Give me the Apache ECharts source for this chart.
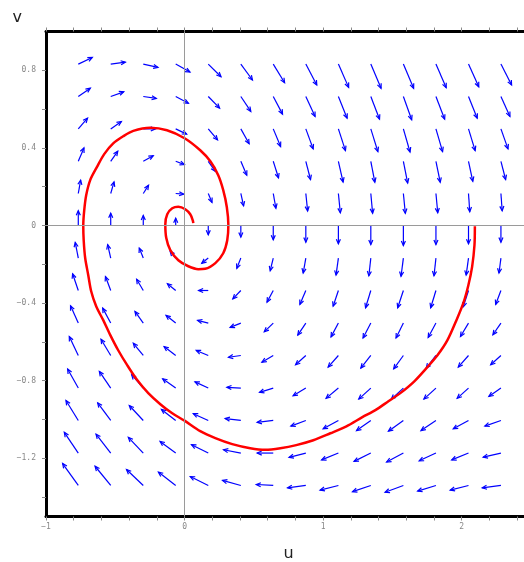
<!DOCTYPE html>
<html>
<head>
<meta charset="utf-8">
<script src="https://cdn.jsdelivr.net/npm/echarts/dist/echarts.min.js"></script>
<style>
html,body{margin:0;padding:0;background:#fff;}
#chart{width:524px;height:562px;}
</style>
</head>
<body>
<div id="chart"></div>
<script>
// ---- axis ticks / labels ----
var xTicks = [-1,-0.8,-0.6,-0.4,-0.2,0,0.2,0.4,0.6,0.8,1,1.2,1.4,1.6,1.8,2,2.2,2.4];
var xLabels = [-1,0,1,2];
var yTicks = [-1.4,-1.2,-1,-0.8,-0.6,-0.4,-0.2,0,0.2,0.4,0.6,0.8];
var yLabels = [-1.2,-0.8,-0.4,0,0.4,0.8];

// ---- vector field grid (arrow tails) ----
var colU = [-0.767,-0.533,-0.298,-0.064,0.171,0.406,0.640,0.875,1.110,1.344,1.579,1.814,2.049,2.283];
var rowV = [0.832,0.665,0.498,0.331,0.165,0,-0.168,-0.335,-0.503,-0.670,-0.838,-1.005,-1.173,-1.340];

// arrow components (u direction), one row per rowV entry
var fieldDU = [
[0.101,0.106,0.106,0.103,0.092,0.084,0.082,0.079,0.074,0.074,0.074,0.074,0.074,0.077],
[0.087,0.094,0.094,0.092,0.082,0.072,0.067,0.067,0.063,0.063,0.060,0.063,0.063,0.065],
[0.067,0.077,0.087,0.079,0.067,0.060,0.053,0.053,0.051,0.051,0.048,0.048,0.048,0.051],
[0.041,0.051,0.072,0.063,0.051,0.043,0.038,0.034,0.034,0.029,0.031,0.031,0.031,0.034],
[0.017,0.024,0.038,0.058,0.027,0.020,0.019,0.013,0.014,0.013,0.014,0.013,0.009,0.009],
[0,0,0,0,0,0,0,0,0,0,0,0,0,0],
[-0.022,-0.022,-0.029,-0.040,-0.047,-0.029,-0.022,-0.019,-0.017,-0.014,-0.017,-0.014,-0.017,-0.014],
[-0.041,-0.038,-0.048,-0.060,-0.070,-0.058,-0.045,-0.043,-0.038,-0.038,-0.041,-0.038,-0.038,-0.038],
[-0.056,-0.058,-0.060,-0.070,-0.077,-0.077,-0.065,-0.058,-0.053,-0.056,-0.053,-0.056,-0.058,-0.058],
[-0.065,-0.070,-0.072,-0.084,-0.087,-0.089,-0.082,-0.074,-0.074,-0.072,-0.070,-0.070,-0.074,-0.074],
[-0.077,-0.082,-0.084,-0.094,-0.096,-0.101,-0.099,-0.092,-0.089,-0.087,-0.087,-0.087,-0.082,-0.087],
[-0.089,-0.094,-0.101,-0.103,-0.108,-0.113,-0.116,-0.108,-0.110,-0.103,-0.108,-0.108,-0.110,-0.116],
[-0.101,-0.106,-0.108,-0.113,-0.121,-0.125,-0.116,-0.121,-0.121,-0.121,-0.121,-0.121,-0.121,-0.128],
[-0.113,-0.113,-0.121,-0.125,-0.130,-0.132,-0.123,-0.132,-0.132,-0.132,-0.132,-0.132,-0.132,-0.135]
];
// arrow components (v direction)
var fieldDV = [
[0.034,0.010,-0.017,-0.041,-0.065,-0.082,-0.096,-0.108,-0.120,-0.125,-0.125,-0.122,-0.117,-0.108],
[0.043,0.024,-0.010,-0.035,-0.060,-0.077,-0.091,-0.103,-0.112,-0.117,-0.120,-0.117,-0.112,-0.103],
[0.055,0.038,0,-0.027,-0.057,-0.077,-0.091,-0.103,-0.112,-0.117,-0.119,-0.117,-0.112,-0.103],
[0.069,0.052,0.029,-0.017,-0.052,-0.072,-0.086,-0.094,-0.107,-0.108,-0.112,-0.108,-0.103,-0.094],
[0.069,0.060,0.043,-0.003,-0.046,-0.064,-0.076,-0.090,-0.099,-0.102,-0.102,-0.099,-0.094,-0.089],
[0.076,0.063,0.052,0.038,-0.048,-0.060,-0.074,-0.086,-0.094,-0.098,-0.103,-0.098,-0.094,-0.086],
[0.081,0.069,0.052,0.035,-0.027,-0.053,-0.065,-0.077,-0.088,-0.091,-0.094,-0.091,-0.088,-0.077],
[0.086,0.072,0.058,0.035,0,-0.043,-0.060,-0.072,-0.081,-0.089,-0.089,-0.089,-0.084,-0.072],
[0.089,0.077,0.060,0.040,0.014,-0.022,-0.045,-0.062,-0.071,-0.077,-0.077,-0.074,-0.069,-0.060],
[0.098,0.084,0.063,0.046,0.026,-0.009,-0.035,-0.048,-0.060,-0.065,-0.069,-0.065,-0.060,-0.048],
[0.098,0.086,0.069,0.048,0.032,0.004,-0.022,-0.040,-0.053,-0.057,-0.057,-0.057,-0.053,-0.043],
[0.103,0.091,0.077,0.057,0.035,0.010,-0.010,-0.029,-0.043,-0.052,-0.055,-0.052,-0.043,-0.029],
[0.107,0.098,0.081,0.060,0.043,0.017,0,-0.022,-0.035,-0.043,-0.046,-0.040,-0.035,-0.021],
[0.113,0.099,0.082,0.069,0.046,0.026,0.005,-0.012,-0.024,-0.032,-0.035,-0.029,-0.024,-0.012]
];

// ---- trajectory (red curve) ----
var curveU = [2.095,2.092,2.075,2.048,2.014,1.962,1.897,1.825,1.752,1.658,1.557,1.471,1.377,1.283,1.168,1.052,0.929,0.806,0.691,0.583,
0.474,0.344,0.222,0.113,0,-0.089,-0.175,-0.262,-0.342,-0.414,-0.479,-0.536,-0.587,-0.638,-0.674,-0.695,-0.717,-0.728,-0.731,-0.724,
-0.710,-0.681,-0.632,-0.580,-0.515,-0.443,-0.370,-0.248,-0.127,0,0.113,0.186,0.243,0.279,0.305,0.316,0.308,0.279,0.222,0.149,
0.099,0.027,-0.045,-0.103,-0.132,-0.139,-0.125,-0.089,-0.045,0.005,0.041,0.059,0.063];
var curveV = [-0.004,-0.102,-0.213,-0.308,-0.395,-0.488,-0.591,-0.669,-0.730,-0.803,-0.864,-0.906,-0.952,-0.988,-1.035,-1.071,-1.107,-1.132,-1.148,-1.156,
-1.148,-1.127,-1.096,-1.060,-1.006,-0.968,-0.921,-0.864,-0.797,-0.720,-0.643,-0.565,-0.488,-0.416,-0.339,-0.256,-0.169,-0.076,0.002,0.079,
0.156,0.234,0.302,0.368,0.423,0.460,0.488,0.504,0.491,0.450,0.388,0.331,0.259,0.182,0.094,0.002,-0.076,-0.143,-0.194,-0.223,
-0.225,-0.210,-0.179,-0.127,-0.065,0.007,0.058,0.089,0.097,0.084,0.058,0.027,0.012];

// ---- build series data ----
var arrowData = [];
for (var r = 0; r < rowV.length; r++) {
  for (var c = 0; c < colU.length; c++) {
    arrowData.push([colU[c], rowV[r], fieldDU[r][c], fieldDV[r][c]]);
  }
}
var curveData = curveU.map(function (u, i) { return [u, curveV[i]]; });

function fmt(v) {
  var s = String(Math.round(v * 10) / 10);
  return s.replace('-', '\u2212');
}

var tickStyle = { color: '#8a8a8a', width: 1 };
var labelStyle = { fontFamily: 'DejaVu Sans Mono', fontSize: 8, color: '#888' };

var chart = echarts.init(document.getElementById('chart'), null, { renderer: 'canvas' });
chart.setOption({
  animation: false,
  backgroundColor: '#fff',
  grid: { left: 46, top: 31.5, width: 485, height: 485, containLabel: false, outerBoundsMode: 'none' },
  xAxis: [
    {
      type: 'value', min: -1, max: 2.5, position: 'bottom',
      name: 'u', nameLocation: 'middle', nameGap: 29,
      nameTextStyle: { fontFamily: 'DejaVu Sans', fontSize: 16, color: '#222' },
      axisLine: { show: true, onZero: false, lineStyle: { color: '#000', width: 3 } },
      axisTick: { show: true, inside: false, length: 4, customValues: xTicks, lineStyle: tickStyle },
      axisLabel: Object.assign({ customValues: xLabels, margin: 6, formatter: fmt }, labelStyle),
      splitLine: { show: false }
    },
    {
      type: 'value', min: -1, max: 2.5, position: 'top',
      axisLine: { show: true, onZero: false, lineStyle: { color: '#000', width: 3 } },
      axisTick: { show: true, inside: false, length: 4, customValues: xTicks, lineStyle: tickStyle },
      axisLabel: { show: false },
      splitLine: { show: false }
    }
  ],
  yAxis: {
    type: 'value', min: -1.5, max: 1, position: 'left',
    name: 'v', nameLocation: 'end', nameGap: 6,
    nameTextStyle: { fontFamily: 'DejaVu Sans', fontSize: 16, color: '#222', align: 'right', padding: [0, 24, 0, 0] },
    axisLine: { show: true, onZero: false, lineStyle: { color: '#000', width: 3 } },
    axisTick: { show: true, inside: false, length: 4, customValues: yTicks, lineStyle: tickStyle },
    axisLabel: Object.assign({ customValues: yLabels, margin: 10, formatter: fmt }, labelStyle),
    splitLine: { show: false }
  },
  series: [
    {
      type: 'line', z: 1, data: [[0, 0]], showSymbol: false, silent: true,
      lineStyle: { opacity: 0 },
      markLine: {
        silent: true, symbol: ['none', 'none'], label: { show: false },
        lineStyle: { color: '#9a9a9a', width: 1, type: 'solid' },
        data: [{ xAxis: 0 }, { yAxis: 0 }]
      }
    },
    {
      type: 'custom', z: 2, silent: true,
      dimensions: ['u', 'v', 'du', 'dv'],
      encode: { x: 0, y: 1 },
      data: arrowData,
      renderItem: function (params, api) {
        var u = api.value(0), v = api.value(1), du = api.value(2), dv = api.value(3);
        var p0 = api.coord([u, v]);
        var p1 = api.coord([u + du, v + dv]);
        var ang = Math.atan2(p1[1] - p0[1], p1[0] - p0[0]);
        var L = 5, A = 0.42;
        var h1 = [p1[0] - L * Math.cos(ang - A), p1[1] - L * Math.sin(ang - A)];
        var h2 = [p1[0] - L * Math.cos(ang + A), p1[1] - L * Math.sin(ang + A)];
        return {
          type: 'group',
          children: [
            { type: 'line', shape: { x1: p0[0], y1: p0[1], x2: p1[0], y2: p1[1] },
              style: { stroke: '#0000ff', lineWidth: 1.2 } },
            { type: 'polyline', shape: { points: [h1, p1, h2] },
              style: { stroke: '#0000ff', lineWidth: 1.2, fill: null } }
          ]
        };
      }
    },
    {
      type: 'line', z: 3, data: curveData, smooth: 0.3, showSymbol: false, silent: true,
      lineStyle: { color: '#ff0000', width: 2.5 }
    }
  ]
});
</script>
</body>
</html>
